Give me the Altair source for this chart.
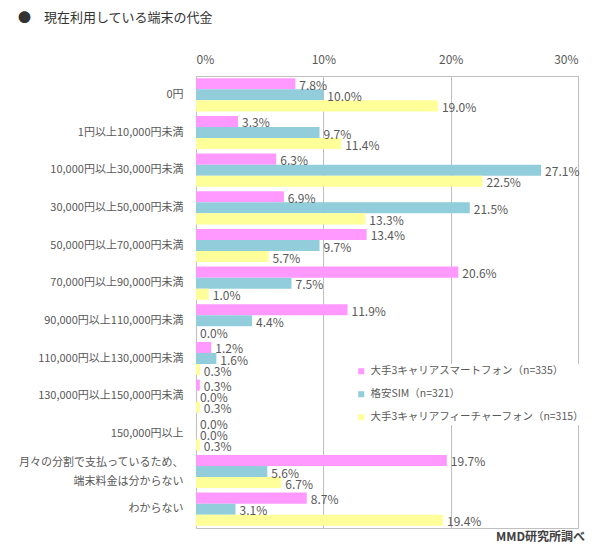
import altair as alt
import pandas as pd

categories = [
    "0円",
    "1円以上10,000円未満",
    "10,000円以上30,000円未満",
    "30,000円以上50,000円未満",
    "50,000円以上70,000円未満",
    "70,000円以上90,000円未満",
    "90,000円以上110,000円未満",
    "110,000円以上130,000円未満",
    "130,000円以上150,000円未満",
    "150,000円以上",
    "月々の分割で支払っているため、\n端末料金は分からない",
    "わからない",
]
series = [
    "大手3キャリアスマートフォン（n=335）",
    "格安SIM（n=321）",
    "大手3キャリアフィーチャーフォン（n=315）",
]
smartphone = [7.8, 3.3, 6.3, 6.9, 13.4, 20.6, 11.9, 1.2, 0.3, 0.0, 19.7, 8.7]
mvno_sim = [10.0, 9.7, 27.1, 21.5, 9.7, 7.5, 4.4, 1.6, 0.0, 0.0, 5.6, 3.1]
feature_phone = [19.0, 11.4, 22.5, 13.3, 5.7, 1.0, 0.0, 0.3, 0.3, 0.3, 6.7, 19.4]
colors = ["#FF99FF", "#92CDDC", "#FFFF99"]
x_ticks = [0, 10, 20, 30]

rows = []
for vals, s in zip([smartphone, mvno_sim, feature_phone], series):
    for c, v in zip(categories, vals):
        rows.append({"category": c, "series": s, "value": v, "label": f"{v:.1f}%"})
df = pd.DataFrame(rows)

FONT = "Noto Sans CJK JP"
GRAY = "#595959"

base = alt.Chart(df).encode(
    y=alt.Y(
        "category:N",
        sort=categories,
        scale=alt.Scale(paddingInner=0.12, paddingOuter=0.06),
        axis=alt.Axis(
            title=None,
            ticks=False,
            domain=False,
            labelPadding=13,
            labelFontSize=11,
            labelColor=GRAY,
            labelFont=FONT,
            labelLineHeight=19,
            labelLimit=200,
            labelExpr="split(datum.label, '\\n')",
            labelOffset={
                "condition": {"test": "indexof(datum.value, '、') >= 0", "value": -9},
                "value": 0,
            },
        ),
    ),
    yOffset=alt.YOffset("series:N", sort=series),
)

bars = base.mark_bar().encode(
    x=alt.X(
        "value:Q",
        scale=alt.Scale(domain=[0, 30], nice=False),
        axis=alt.Axis(
            orient="top",
            title=None,
            values=x_ticks,
            labelExpr="datum.value + '%'",
            ticks=False,
            domain=False,
            labelPadding=10,
            labelFontSize=12,
            labelColor=GRAY,
            labelFont=FONT,
            gridColor="#BFBFBF",
            gridWidth=1,
        ),
    ),
    color=alt.Color(
        "series:N",
        sort=series,
        scale=alt.Scale(domain=series, range=colors),
        legend=alt.Legend(
            title=None,
            orient="none",
            legendX=158,
            legendY=288,
            symbolType="square",
            symbolSize=36,
            symbolStrokeWidth=0,
            labelFontSize=10.5,
            labelColor=GRAY,
            labelFont=FONT,
            labelLimit=300,
            rowPadding=12,
            fillColor="white",
            padding=2,
        ),
    ),
)

labels = base.mark_text(
    align="left", baseline="middle", dx=4, dy=2, fontSize=12, color=GRAY, font=FONT
).encode(x="value:Q", text="label:N")

footer = alt.Chart(pd.DataFrame({"t": ["MMD研究所調べ"]})).mark_text(
    align="right", baseline="middle", fontSize=12, fontWeight="bold", color="#404040", font=FONT
).encode(x=alt.value(389), y=alt.value(461), text="t:N")

chart = (
    alt.layer(bars, labels, footer)
    .properties(
        width=382,
        height=452,
        padding={"left": 188, "top": 68, "right": 10, "bottom": 18},
        autosize=alt.AutoSizeParams(type="none"),
        title=alt.TitleParams(
            "●　現在利用している端末の代金",
            anchor="start",
            frame="group",
            dx=-178,
            offset=28,
            fontSize=13,
            fontWeight="normal",
            color="#333333",
            font=FONT,
        ),
    )
    .configure_view(stroke="#BFBFBF", strokeWidth=1)
)

chart.save("out.html", embed_options={"renderer": "svg", "actions": False})
